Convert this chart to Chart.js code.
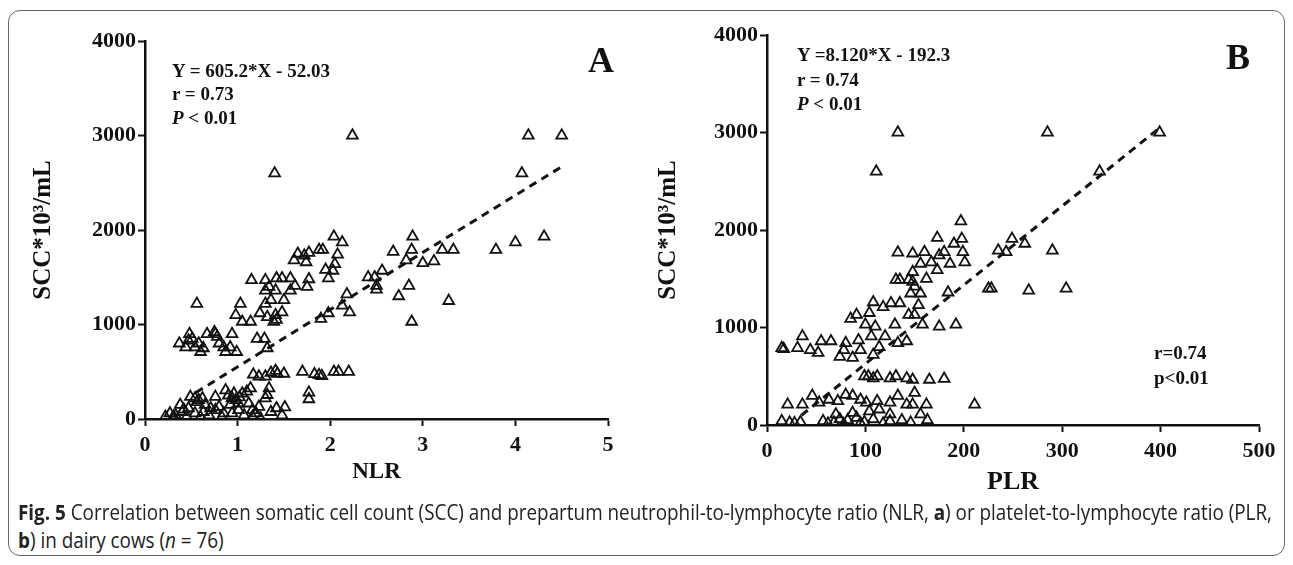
<!DOCTYPE html>
<html>
<head>
<meta charset="utf-8">
<script src="https://cdn.jsdelivr.net/npm/chart.js@4"></script>
<style>
  body { margin: 0; background: #fff; width: 1293px; height: 565px; position: relative; overflow: hidden; }
  .frame { position: absolute; left: 8px; top: 10px; width: 1275px; height: 544px; border: 1.5px solid #666; border-radius: 12px; }
  .cv { position: absolute; top: 0; }
  .note { position: absolute; font-family: "Liberation Serif", serif; font-weight: bold; font-size: 19px; line-height: 1; white-space: nowrap; transform: translateY(-50%); color: #111; }
  .big { font-size: 36px; }
  .caption { position: absolute; left: 18px; font-family: "Open Sans", sans-serif; font-size: 21px; line-height: 1; white-space: nowrap; color: #222; transform-origin: 0 50%; }
</style>
</head>
<body>
<div class="frame"></div>
<canvas id="chartA" class="cv" width="640" height="500" style="left:0"></canvas>
<canvas id="chartB" class="cv" width="653" height="500" style="left:640px"></canvas>

<div class="note" style="left:172px;top:70px">Y = 605.2*X - 52.03</div>
<div class="note" style="left:172px;top:93px">r = 0.73</div>
<div class="note" style="left:172px;top:117px"><i>P</i> &lt; 0.01</div>
<div class="note big" style="left:588px;top:60px">A</div>

<div class="note" style="left:797px;top:54px">Y =8.120*X - 192.3</div>
<div class="note" style="left:797px;top:79px">r = 0.74</div>
<div class="note" style="left:797px;top:103px"><i>P</i> &lt; 0.01</div>
<div class="note big" style="left:1226px;top:57px">B</div>
<div class="note" style="left:1154px;top:352px">r=0.74</div>
<div class="note" style="left:1154px;top:377px">p&lt;0.01</div>

<div class="caption" id="cap1" style="top:502px"><b>Fig. 5</b> Correlation between somatic cell count (SCC) and prepartum neutrophil-to-lymphocyte ratio (NLR, <b>a</b>) or platelet-to-lymphocyte ratio (PLR,</div>
<div class="caption" id="cap2" style="top:530px"><b>b</b>) in dairy cows (<i>n</i> = 76)</div>

<script>
// panel A: NLR vs SCC
const nlrX = [2.24, 4.14, 4.50, 1.40, 4.07, 4.31, 4.00, 3.79, 3.33, 3.21, 3.12, 3.00, 2.89, 2.88, 2.82, 2.68, 2.85, 2.74, 3.28, 2.88,
  2.56, 2.50, 2.48, 2.41, 2.50, 2.21, 2.18, 2.13, 1.98, 1.90, 2.04, 2.13, 2.08, 2.05, 2.03, 1.98, 1.95, 1.92, 1.88, 1.77,
  1.72, 1.74, 1.65, 1.61, 1.77, 1.75, 1.57, 1.62, 1.57, 1.48, 1.42, 1.30, 1.15, 1.34, 1.30, 1.41, 1.36, 1.50, 1.30, 1.24,
  1.32, 1.41, 1.48, 1.39, 1.42, 1.03, 0.98, 1.05, 1.14, 1.21, 1.29, 1.32, 0.56,
  0.37, 0.44, 0.48, 0.51, 0.54, 0.58, 0.60, 0.63, 0.67, 0.76, 0.78, 0.80, 0.85, 0.87, 0.92, 0.94, 0.99, 0.75, 0.47,
  1.17, 1.23, 1.30, 1.36, 1.41, 1.43, 1.50, 1.70, 1.83, 1.91, 2.04, 2.09, 2.20, 1.88, 1.77, 1.77,
  0.22, 0.27, 0.31, 0.38, 0.40, 0.45, 0.49, 0.54, 0.58, 0.62, 0.54, 0.63, 0.69, 0.76, 0.80, 0.87, 0.94, 0.98, 1.01, 1.05,
  1.10, 1.14, 0.94, 1.07, 1.16, 1.25, 1.23, 1.30, 1.34, 1.32, 1.36, 1.42, 1.51, 1.48, 0.85, 0.71, 1.12, 1.01, 0.92, 0.76,
  0.47, 0.65, 1.16, 0.33, 0.42, 0.56, 0.90, 0.96, 1.02, 0.60, 0.83, 1.20, 0.30];
const nlrY = [3000, 3000, 3000, 2600, 2600, 1930, 1870, 1790, 1790, 1790, 1670, 1650, 1930, 1790, 1680, 1770, 1410, 1300, 1250, 1030,
  1570, 1370, 1500, 1500, 1410, 1130, 1320, 1200, 1120, 1060, 1930, 1870, 1740, 1640, 1570, 1490, 1580, 1790, 1790, 1760,
  1730, 1660, 1750, 1680, 1480, 1400, 1490, 1410, 1360, 1490, 1490, 1470, 1470, 1400, 1360, 1360, 1260, 1260, 1220, 1120,
  1080, 1100, 1130, 1030, 1050, 1220, 1100, 1030, 1030, 850, 850, 750, 1220,
  800, 760, 900, 850, 760, 800, 710, 750, 900, 900, 870, 800, 760, 710, 760, 900, 710, 920, 830,
  470, 450, 450, 490, 510, 480, 480, 500, 475, 455, 500, 500, 500, 465, 280, 210,
  25, 60, 25, 150, 75, 25, 235, 220, 200, 220, 60, 75, 40, 235, 130, 305, 220, 200, 95, 270,
  290, 325, 60, 40, 95, 5, 130, 220, 325, 255, 75, 115, 125, 40, 60, 115, 165, 165, 150, 95,
  115, 150, 25, 40, 100, 180, 250, 270, 230, 20, 20, 60, 10];
const nlrFitX = [0.55, 4.5];
const nlrFitY = [280, 2670];

// panel B: PLR vs SCC
const plrX = [133, 285, 399, 111, 338, 197, 198, 173, 190, 249, 262, 290, 235, 243, 133, 148, 160, 175, 180, 199,
  201, 167, 186, 156, 173, 162, 148, 131, 135, 144, 148, 150, 146, 156, 184, 225, 228, 266, 304, 108,
  126, 118, 135, 154, 150, 144, 104, 91, 85, 100, 110, 130, 158, 175, 192, 106, 120, 133, 142, 114,
  108, 93, 95, 80, 87, 74, 78, 36, 15, 31, 44, 52, 55, 65, 17,
  99, 112, 125, 131, 142, 148, 165, 180, 108, 103, 150, 211,
  21, 36, 46, 53, 63, 72, 80, 87, 95, 101, 112, 125, 133, 142, 148, 162, 125, 114, 104,
  15, 23, 34, 57, 68, 74, 82, 91, 99, 108, 125, 137, 146, 163, 156, 70, 87, 28, 62, 78, 95, 118];
const plrY = [3000, 3000, 3000, 2600, 2600, 2090, 1910, 1920, 1860, 1910, 1860, 1790, 1790, 1775, 1770, 1760, 1775, 1740, 1775, 1775,
  1670, 1670, 1655, 1655, 1590, 1500, 1570, 1490, 1490, 1490, 1470, 1420, 1350, 1350, 1360, 1400, 1400, 1380, 1400, 1260,
  1250, 1210, 1250, 1230, 1130, 1130, 1150, 1130, 1090, 1030, 1010, 1030, 1030, 1010, 1030, 910, 910, 840, 860, 800,
  720, 870, 770, 840, 690, 700, 770, 910, 790, 790, 770, 740, 860, 860, 780,
  500, 500, 480, 500, 480, 465, 465, 475, 480, 500, 330, 210,
  210, 210, 300, 230, 260, 245, 310, 300, 260, 230, 245, 230, 300, 210, 210, 210, 110, 160, 140,
  40, 25, 30, 40, 25, 60, 50, 75, 30, 60, 40, 50, 25, 50, 110, 110, 125, 20, 15, 10, 20, 15];
const plrFitX = [35, 400];
const plrFitY = [100, 3055];

const sccTicks = [0, 1000, 2000, 3000, 4000];

const serif = 'Liberation Serif';

function toPoints(xs, ys) {
    return xs.map((x, i) => ({ x: x, y: ys[i] }));
}

function makeChart(id, xs, ys, fitX, fitY, xMax, xStep, xTitle, geo) {
    const ctx = document.getElementById(id);
    return new Chart(ctx, {
        type: 'scatter',
        data: {
            datasets: [
                {
                    data: toPoints(xs, ys),
                    pointStyle: 'triangle',
                    pointRadius: 6.2,
                    borderColor: '#111',
                    borderWidth: 1.8,
                    backgroundColor: 'rgba(255,255,255,0)'
                },
                {
                    type: 'line',
                    data: toPoints(fitX, fitY),
                    borderColor: '#111',
                    borderWidth: 3,
                    borderDash: [8, 6],
                    pointRadius: 0,
                    fill: false
                }
            ]
        },
        options: {
            responsive: false,
            animation: false,
            events: [],
            layout: {
                padding: { left: 0, top: geo.top, right: geo.right, bottom: 0 }
            },
            plugins: {
                legend: { display: false },
                tooltip: { enabled: false }
            },
            scales: {
                x: {
                    type: 'linear',
                    min: 0,
                    max: xMax,
                    afterFit: (s) => { s.height = geo.xh; },
                    ticks: {
                        stepSize: xStep,
                        color: '#111',
                        padding: 6,
                        maxRotation: 0,
                        callback: (v) => String(v),
                        font: { family: serif, weight: 'bold', size: 22 }
                    },
                    grid: { drawOnChartArea: false, drawTicks: true, tickLength: 7, tickWidth: 2, tickColor: '#111' },
                    border: { color: '#111', width: 2.5 },
                    title: {
                        display: true,
                        text: xTitle,
                        color: '#111',
                        padding: { top: 0, bottom: geo.xtPad },
                        font: { family: serif, weight: 'bold', size: geo.xtSize }
                    }
                },
                y: {
                    min: 0,
                    max: 4000,
                    afterFit: (s) => { s.width = geo.yw; },
                    afterBuildTicks: (s) => { s.ticks = sccTicks.map(v => ({ value: v })); },
                    ticks: {
                        color: '#111',
                        padding: 2,
                        callback: (v) => String(v),
                        font: { family: serif, weight: 'bold', size: 22 }
                    },
                    grid: { drawOnChartArea: false, drawTicks: true, tickLength: 7, tickWidth: 2, tickColor: '#111' },
                    border: { color: '#111', width: 2.5 },
                    title: {
                        display: true,
                        text: 'SCC*10³/mL',
                        color: '#111',
                        padding: { top: geo.ytPad, bottom: 0 },
                        font: { family: serif, weight: 'bold', size: 25 }
                    }
                }
            }
        }
    });
}

makeChart('chartA', nlrX, nlrY, nlrFitX, nlrFitY, 5, 1, 'NLR',
    { top: 41, right: 32, xh: 81, yw: 145, xtPad: 14, xtSize: 23, ytPad: 29 });
makeChart('chartB', plrX, plrY, plrFitX, plrFitY, 500, 100, 'PLR',
    { top: 35, right: 34, xh: 75, yw: 127, xtPad: 2, xtSize: 26, ytPad: 14 });

// squeeze the caption to the condensed look of the original
const cap1 = document.getElementById('cap1');
const cap2 = document.getElementById('cap2');
const k = 1254 / cap1.getBoundingClientRect().width;
cap1.style.transform = 'scaleX(' + k + ')';
cap2.style.transform = 'scaleX(' + k + ')';
</script>
</body>
</html>
